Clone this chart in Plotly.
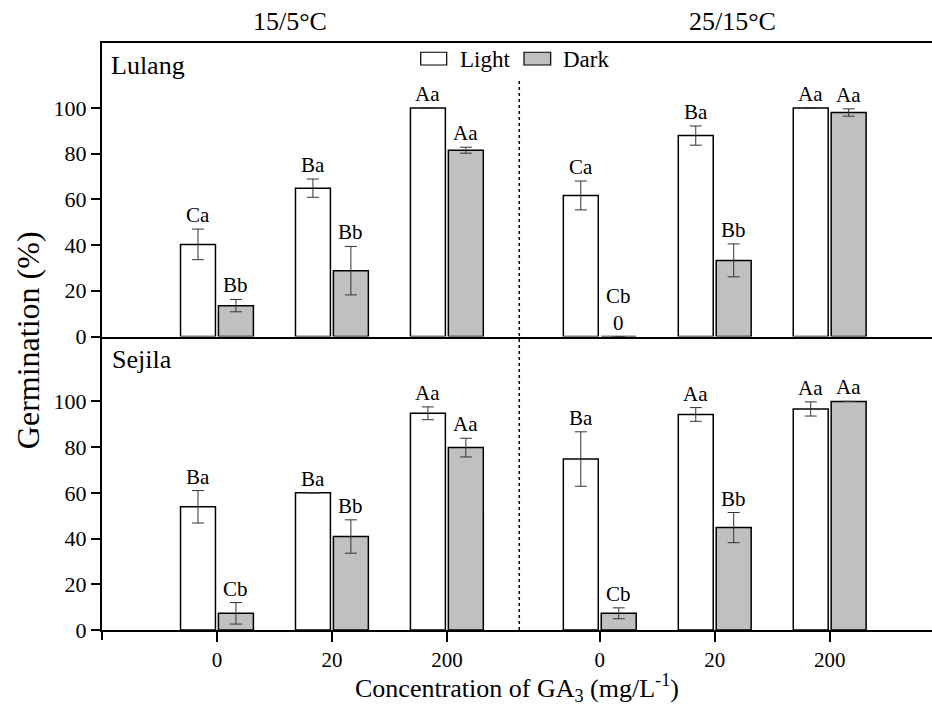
import plotly.graph_objects as go

# ---- data ----
concentrations = ["0", "20", "200"]
temperatures = ["15/5°C", "25/15°C"]
sites = ["Lulang", "Sejila"]

lulang_light = [40.3, 64.9, 100.0, 61.7, 87.9, 100.0]
lulang_light_err = [6.7, 4.0, 0.0, 6.3, 4.2, 0.0]
lulang_dark = [13.5, 28.8, 81.5, 0.0, 33.3, 98.0]
lulang_dark_err = [2.7, 10.6, 1.3, 0.0, 7.2, 1.6]
lulang_light_lbl = ["Ca", "Ba", "Aa", "Ca", "Ba", "Aa"]
lulang_dark_lbl = ["Bb", "Bb", "Aa", "Cb", "Bb", "Aa"]

sejila_light = [53.9, 60.0, 94.8, 74.8, 94.3, 96.7]
sejila_light_err = [7.1, 0.0, 2.8, 11.9, 3.0, 3.1]
sejila_dark = [7.3, 40.9, 79.8, 7.3, 44.8, 100.0]
sejila_dark_err = [4.7, 7.3, 4.1, 2.4, 6.6, 0.0]
sejila_light_lbl = ["Ba", "Ba", "Aa", "Ba", "Aa", "Aa"]
sejila_dark_lbl = ["Cb", "Bb", "Aa", "Cb", "Bb", "Aa"]

# ---- layout helpers ----
FONT = "'Times New Roman', 'Liberation Serif', 'DejaVu Serif', serif"
GROUP_GAP = 0.33
xpos = [t * (len(concentrations) + GROUP_GAP) + i + 1
        for t in range(len(temperatures)) for i in range(len(concentrations))]
xticktext = concentrations * len(temperatures)

BAR_W = 0.304
OFF_L = -0.317
OFF_D = 0.013

fig = go.Figure()
annotations = []

panels = [
    ("x", "y", lulang_light, lulang_light_err, lulang_dark, lulang_dark_err, lulang_light_lbl, lulang_dark_lbl),
    ("x2", "y2", sejila_light, sejila_light_err, sejila_dark, sejila_dark_err, sejila_light_lbl, sejila_dark_lbl),
]

for xa, ya, lv, le, dv, de, ll, dl in panels:
    fig.add_trace(go.Bar(
        x=xpos, y=lv, width=BAR_W, offset=OFF_L, xaxis=xa, yaxis=ya,
        marker=dict(color="white", line=dict(color="black", width=1.5)),
        error_y=dict(type="data", array=le, visible=True, color="#333333", thickness=1, width=6),
        name="Light", showlegend=False))
    fig.add_trace(go.Bar(
        x=xpos, y=dv, width=BAR_W, offset=OFF_D, xaxis=xa, yaxis=ya,
        marker=dict(color="#c0c0c0", line=dict(color="black", width=1.5)),
        error_y=dict(type="data", array=de, visible=True, color="#333333", thickness=1, width=6),
        name="Dark", showlegend=False))
    for k, p in enumerate(xpos):
        annotations.append(dict(
            x=p + OFF_L + BAR_W / 2, y=lv[k] + le[k], xref=xa, yref=ya,
            text=ll[k], showarrow=False, yanchor="bottom", yshift=0,
            font=dict(family=FONT, size=21, color="black")))
        txt = dl[k] + ("<br>0" if dv[k] == 0 else "")
        annotations.append(dict(
            x=p + OFF_D + BAR_W / 2, y=dv[k] + de[k], xref=xa, yref=ya,
            text=txt, showarrow=False, yanchor="bottom", yshift=0,
            font=dict(family=FONT, size=21, color="black")))

# titles and panel labels
annotations += [
    dict(x=0.2265, y=1.036, xref="paper", yref="paper", text=temperatures[0], showarrow=False,
         xanchor="center", yanchor="middle", font=dict(family=FONT, size=26, color="black")),
    dict(x=0.760, y=1.036, xref="paper", yref="paper", text=temperatures[1], showarrow=False,
         xanchor="center", yanchor="middle", font=dict(family=FONT, size=26, color="black")),
    dict(x=0.008, y=0.9625, xref="paper", yref="paper", text=sites[0], showarrow=False,
         xanchor="left", yanchor="middle", font=dict(family=FONT, size=26, color="black")),
    dict(x=0.010, y=0.46, xref="paper", yref="paper", text=sites[1], showarrow=False,
         xanchor="left", yanchor="middle", font=dict(family=FONT, size=26, color="black")),
    dict(x=-0.089, y=0.494, xref="paper", yref="paper", text="Germination (%)", showarrow=False,
         textangle=-90, xanchor="center", yanchor="middle", font=dict(family=FONT, size=32, color="black")),
    dict(x=0.5, y=-0.098, xref="paper", yref="paper",
         text="Concentration of GA<sub>3</sub> (mg/L<sup>-1</sup>)", showarrow=False,
         xanchor="center", yanchor="middle", font=dict(family=FONT, size=26, color="black")),
    dict(x=0.4289, y=0.9727, xref="paper", yref="paper", text="Light", showarrow=False,
         xanchor="left", yanchor="middle", font=dict(family=FONT, size=23, color="black")),
    dict(x=0.553, y=0.9727, xref="paper", yref="paper", text="Dark", showarrow=False,
         xanchor="left", yanchor="middle", font=dict(family=FONT, size=23, color="black")),
]

shapes = [
    dict(type="rect", xref="paper", yref="paper", x0=0.384, x1=0.4153, y0=0.9625, y1=0.9842,
         fillcolor="white", line=dict(color="black", width=1.2)),
    dict(type="rect", xref="paper", yref="paper", x0=0.5084, x1=0.5406, y0=0.9625, y1=0.9842,
         fillcolor="#c0c0c0", line=dict(color="black", width=1.2)),
    dict(type="line", xref="x2", yref="paper", x0=3.63, x1=3.63, y0=0, y1=0.937,
         line=dict(color="black", width=1.5, dash="dot")),
    dict(type="line", xref="paper", yref="paper", x0=0, x1=0, y0=-0.017, y1=0,
         line=dict(color="black", width=2)),
]

axis_common = dict(showline=True, linecolor="black", linewidth=2, showgrid=False, zeroline=False)

fig.update_layout(
    width=932, height=705,
    margin=dict(l=102, r=0, t=43, b=75),
    paper_bgcolor="white", plot_bgcolor="white",
    barmode="overlay",
    font=dict(family=FONT, color="black"),
    xaxis=dict(**axis_common, range=[0, 7.22], anchor="y", mirror=True,
               showticklabels=False, ticks="", matches="x2"),
    xaxis2=dict(**axis_common, range=[0, 7.22], anchor="y2",
                tickvals=xpos, ticktext=xticktext, ticks="outside",
                ticklen=10, tickwidth=2, tickcolor="black",
                tickfont=dict(family=FONT, size=21, color="black")),
    yaxis=dict(**axis_common, domain=[0.5, 1], range=[0, 128.4], anchor="x",
               tickvals=[0, 20, 40, 60, 80, 100], ticks="outside", ticklen=9, tickwidth=2,
               tickcolor="black", tickfont=dict(family=FONT, size=22, color="black")),
    yaxis2=dict(**axis_common, domain=[0, 0.5], range=[0, 128.4], anchor="x2",
                tickvals=[0, 20, 40, 60, 80, 100], ticks="outside", ticklen=9, tickwidth=2,
                tickcolor="black", tickfont=dict(family=FONT, size=22, color="black")),
    annotations=annotations,
    shapes=shapes,
)

fig.write_html("out.html")
